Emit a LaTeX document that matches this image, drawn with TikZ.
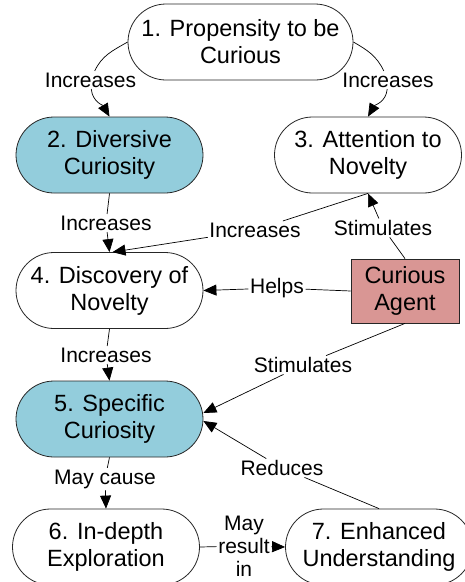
\documentclass[tikz,border=0pt]{standalone}
\usepackage{fontspec}
\setmainfont{Liberation Sans}
\usetikzlibrary{shapes.misc,arrows.meta}
\definecolor{aqua}{HTML}{93CDDC}
\definecolor{rose}{HTML}{D99694}
\begin{document}
\begin{tikzpicture}[x=1pt,y=1pt,
 box/.style={draw=black!85, line width=0.8pt, rounded rectangle, minimum width=187pt, minimum height=76pt, inner sep=0pt, align=center, font=\fontsize{23.5pt}{27pt}\selectfont},
 agentbox/.style={draw=black!85, line width=0.8pt, fill=rose, rectangle, minimum width=108pt, minimum height=64pt, inner sep=0pt, align=center, font=\fontsize{23.5pt}{27pt}\selectfont},
 lab/.style={inner sep=1.5pt, align=center, font=\fontsize{21pt}{23pt}\selectfont},
 conn/.style={line width=0.7pt},
 arr/.style={conn, -{Triangle[length=13pt,width=11pt]}}]
\useasboundingbox (0,0) rectangle (464,-582);
\fill[white] (0,0) rectangle (464,-582);
% nodes
\node[box, minimum width=225pt] (n1) at (240.5,-42) {1. Propensity to be\\Curious};
\node[box, fill=aqua] (n2) at (109.5,-155) {2. Diversive\\Curiosity};
\node[box] (n3) at (368,-155) {3. Attention to\\Novelty};
\node[box] (n4) at (109.5,-290.5) {4. Discovery of\\Novelty};
\node[agentbox] (ag) at (405,-291) {Curious\\Agent};
\node[box, fill=aqua] (n5) at (109.5,-419) {5. Specific\\Curiosity};
\node[box] (n6) at (106,-547) {6. In-depth\\Exploration};
\node[box] (n7) at (379,-547) {7. Enhanced\\Understanding};
% labels
\node[lab] (l12) at (90.5,-80) {Increases};
\node[lab] (l13) at (388,-80) {Increases};
\node[lab] (l24) at (106,-223) {Increases};
\node[lab] (l34) at (255,-230) {Increases};
\node[lab] (lA3) at (383,-228) {Stimulates};
\node[lab] (lA4) at (277,-288) {Helps};
\node[lab] (lA5) at (303,-365) {Stimulates};
\node[lab] (l45) at (106,-355) {Increases};
\node[lab] (l56) at (105,-479) {May cause};
\node[lab] (l75) at (282,-468) {Reduces};
\node[lab] (l67) at (244,-546) {May\\result\\in};
% connectors
\draw[conn] (n1.west) to[out=210,in=65] (l12);
\draw[arr] (l12) to[out=-85,in=120] (n2.north);
\draw[conn] (n1.east) to[out=-30,in=115] (l13);
\draw[arr] (l13) to[out=-95,in=60] (n3.north);
\draw[conn] (n2.south) -- (l24);
\draw[arr] (l24) -- (n4.north);
\draw[conn] (n3.south) -- (l34);
\draw[arr] (l34) -- ([xshift=3pt]n4.north);
\draw[conn] (ag.north) -- (lA3);
\draw[arr] (lA3) -- (n3.south);
\draw[conn] (ag.west) -- (lA4);
\draw[arr] (lA4) -- (n4.east);
\draw[conn] (ag.south) -- (lA5);
\draw[arr] (lA5) -- ([yshift=6pt]n5.east);
\draw[conn] (n4.south) -- (l45);
\draw[arr] (l45) -- (n5.north);
\draw[conn] (n5.south) -- (l56);
\draw[arr] (l56) -- (n6.north);
\draw[conn] (n6.east) -- (l67);
\draw[arr] (l67) -- (n7.west);
\draw[conn] (n7.north) -- (l75);
\draw[arr] (l75) -- ([yshift=-2pt]n5.east);
\end{tikzpicture}
\end{document}
